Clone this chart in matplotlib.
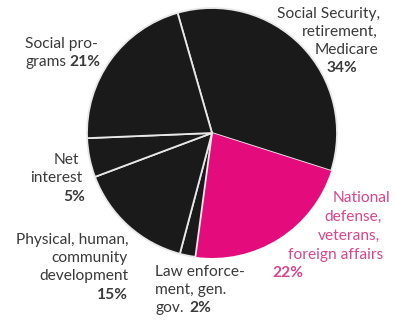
import matplotlib
matplotlib.use("Agg")
import matplotlib.pyplot as plt

# Data
categories = ["Social Security, retirement, Medicare", "National defense, veterans, foreign affairs",
              "Law enforcement, gen. gov.", "Physical, human, community development",
              "Net interest", "Social programs"]
values = [34, 22, 2, 15, 5, 21]
colors = ["#1b1a1b", "#e40c7d", "#1b1a1b", "#1b1a1b", "#1b1a1b", "#1b1a1b"]

W, H = 396, 325
fig = plt.figure(figsize=(W / 100, H / 100), dpi=100)
fig.patch.set_facecolor("white")

cx, cy, r = 212, 133, 125
ax = fig.add_axes([(cx - r) / W, 1 - (cy + r) / H, 2 * r / W, 2 * r / H])
wedges, _ = ax.pie(values, colors=colors, startangle=106, counterclock=False,
                   wedgeprops=dict(edgecolor="#e8e8e8", linewidth=1.3))
wedges[1].set_edgecolor("none")
ax.set_xlim(-1, 1)
ax.set_ylim(-1, 1)
ax.axis("off")

font = "Lato"
fs = 11.2
tc = "#3a3a3a"
pc = "#d8468c"

def t(x, y, s, ha="right", bold=False, color=tc):
    fig.text(x / W, 1 - y / H, s, ha=ha, va="center", fontsize=fs, family=font,
             fontweight="bold" if bold else "normal", color=color)

# Social Security
t(380, 14, "Social Security,")
t(378, 32, "retirement,")
t(378, 50, "Medicare")
t(342, 68, f"{values[0]}%", ha="center", bold=True)

# Social programs
t(98, 44, "Social pro-")
t(67, 62, "grams")
t(100, 62, f"{values[5]}%", bold=True)

# Net interest
t(79, 160, "Net")
t(82, 178, "interest")
t(85, 197, f"{values[4]}%", bold=True)

# Physical
t(129, 240, "Physical, human,")
t(128, 258, "community")
t(128, 276, "development")
t(128, 295, f"{values[3]}%", bold=True)

# Law enforcement
t(155, 272, "Law enforce-", ha="left")
t(155, 290, "ment, gen.", ha="left")
t(155, 308, "gov.", ha="left")
t(189, 308, f"{values[2]}%", ha="left", bold=True)

# National defense
t(390, 198, "National", color=pc)
t(382, 217, "defense,", color=pc)
t(380, 236, "veterans,", color=pc)
t(383, 255, "foreign affairs", color=pc)
t(272, 273, f"{values[1]}%", ha="left", bold=True, color=pc)

fig.savefig("out.png", dpi=100, facecolor="white")
